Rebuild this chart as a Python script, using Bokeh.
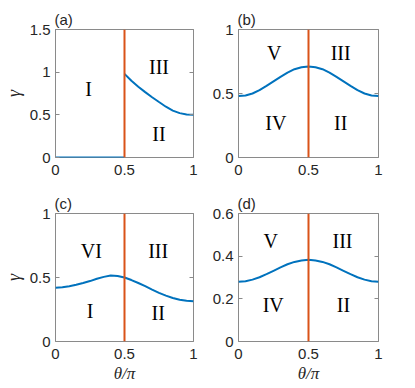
from bokeh.plotting import figure
from bokeh.models import Range1d, FixedTicker, LinearAxis, Span, ColumnDataSource
from bokeh.layouts import column, row
from bokeh.core.properties import value
from bokeh.embed import file_html
from bokeh.resources import INLINE

# ---------------- data ----------------
theta = [0.0, 0.05, 0.1, 0.15, 0.2, 0.25, 0.3, 0.35, 0.4, 0.45, 0.5,
         0.55, 0.6, 0.65, 0.7, 0.75, 0.8, 0.85, 0.9, 0.95, 1.0]

# panel (a): flat zero branch and decaying branch
a_theta_low = [0.0, 0.5]
a_gamma_low = [0.0, 0.0]
a_theta_high = [0.5, 0.55, 0.6, 0.65, 0.7, 0.75, 0.8, 0.85, 0.9, 0.95, 1.0]
a_gamma_high = [0.98, 0.90, 0.83, 0.766, 0.706, 0.65, 0.595, 0.55, 0.52, 0.505, 0.50]

b_gamma = [0.48, 0.485, 0.50, 0.527, 0.56, 0.595, 0.63, 0.663, 0.69, 0.705, 0.71,
           0.705, 0.69, 0.663, 0.63, 0.595, 0.56, 0.527, 0.50, 0.485, 0.48]
c_gamma = [0.42, 0.423, 0.432, 0.443, 0.457, 0.472, 0.49, 0.505, 0.515, 0.512, 0.50,
           0.48, 0.457, 0.432, 0.405, 0.38, 0.358, 0.34, 0.326, 0.318, 0.315]
d_gamma = [0.28, 0.2825, 0.29, 0.301, 0.3155, 0.3315, 0.3475, 0.362, 0.373, 0.380, 0.383,
           0.380, 0.373, 0.362, 0.3475, 0.3315, 0.3155, 0.301, 0.29, 0.2825, 0.28]

boundary_theta = 0.5

x_ticks = [0, 0.5, 1]
x_tick_labels = ["0", "0.5", "1"]
a_y_ticks = [0, 0.5, 1, 1.5]
a_y_labels = ["0", "0.5", "1", "1.5"]
bc_y_ticks = [0, 0.5, 1]
bc_y_labels = ["0", "0.5", "1"]
d_y_ticks = [0, 0.2, 0.4, 0.6]
d_y_labels = ["0", "0.2", "0.4", "0.6"]

# region labels
a_reg_x = [0.24, 0.75, 0.75]
a_reg_y = [0.80, 1.06, 0.28]
a_reg_t = ["I", "III", "II"]
b_reg_x = [0.255, 0.73, 0.267, 0.73]
b_reg_y = [0.82, 0.82, 0.27, 0.27]
b_reg_t = ["V", "III", "IV", "II"]
c_reg_x = [0.26, 0.744, 0.25, 0.744]
c_reg_y = [0.71, 0.71, 0.24, 0.22]
c_reg_t = ["VI", "III", "I", "II"]
d_reg_x = [0.23, 0.743, 0.248, 0.75]
d_reg_y = [0.47, 0.47, 0.17, 0.17]
d_reg_t = ["V", "III", "IV", "II"]

BLUE = "#0072BD"
ORANGE = "#D95319"
BOX = "#8a8a8a"
TXT = "#262626"
SANS = "Liberation Sans"
SERIF = "Liberation Serif"


def make_panel(tag, ymax, yticks, ylabels, borders, ylab=None, xlab=None):
    bl, br, bt, bb = borders
    p = figure(frame_width=138 if bl > 40 else 140, frame_height=128,
               output_backend="svg",
               toolbar_location=None, x_range=Range1d(0, 1),
               y_range=Range1d(0, ymax),
               min_border_left=bl, min_border_right=br,
               min_border_top=bt, min_border_bottom=bb)
    p.xgrid.visible = False
    p.ygrid.visible = False
    p.outline_line_color = BOX
    p.outline_line_width = 1
    p.background_fill_color = "white"
    p.border_fill_color = "white"

    p.title.text = tag
    p.title.align = "left"
    p.title.offset = -1
    p.title.standoff = 3
    p.title.text_font = SANS
    p.title.text_font_size = "15px"
    p.title.text_font_style = "normal"
    p.title.text_color = TXT

    for ax, ticks, labels, sto in ((p.xaxis[0], x_ticks, x_tick_labels, 7),
                                   (p.yaxis[0], yticks, ylabels, 5)):
        ax.ticker = FixedTicker(ticks=ticks)
        ax.major_label_overrides = {t: l for t, l in zip(ticks, labels)}
        ax.minor_tick_line_color = None
        ax.major_tick_in = 4
        ax.major_tick_out = 0
        ax.major_tick_line_color = BOX
        ax.axis_line_color = None
        ax.major_label_text_font = SANS
        ax.major_label_text_font_size = "15px"
        ax.major_label_text_color = TXT
        ax.major_label_standoff = sto
    if ylab:
        p.yaxis[0].axis_label = ylab
        p.yaxis[0].axis_label_text_font = SERIF
        p.yaxis[0].axis_label_text_font_style = "italic"
        p.yaxis[0].axis_label_text_font_size = "18px"
        p.yaxis[0].axis_label_text_color = TXT
        p.yaxis[0].axis_label_standoff = 3
    if xlab:
        p.xaxis[0].axis_label = xlab
        p.xaxis[0].axis_label_text_font = SERIF
        p.xaxis[0].axis_label_text_font_style = "italic"
        p.xaxis[0].axis_label_text_font_size = "17px"
        p.xaxis[0].axis_label_text_color = TXT
        p.xaxis[0].axis_label_standoff = 2

    for loc, ticks in (("above", x_ticks), ("right", yticks)):
        ax = LinearAxis(ticker=FixedTicker(ticks=ticks),
                        major_label_overrides={t: "" for t in ticks},
                        major_label_text_font_size="1px",
                        major_label_standoff=0,
                        major_tick_in=4, major_tick_out=0,
                        major_tick_line_color=BOX,
                        minor_tick_line_color=None,
                        axis_line_color=None)
        p.add_layout(ax, loc)
    return p


def add_regions(p, xs, ys, ts):
    src = ColumnDataSource(dict(x=xs, y=ys, t=ts))
    p.text(x="x", y="y", text="t", source=src,
           text_font=value(SERIF), text_font_size="20px",
           text_align="center", text_baseline="middle", text_color="black")


def add_boundary(p):
    p.add_layout(Span(location=boundary_theta, dimension="height",
                      line_color=ORANGE, line_width=2))


pa = make_panel("(a)", 1.5, a_y_ticks, a_y_labels, (54, 16, 29, 34), ylab="γ")
add_regions(pa, a_reg_x, a_reg_y, a_reg_t)
pa.line(a_theta_low, a_gamma_low, line_color=BLUE, line_width=2)
pa.line(a_theta_high, a_gamma_high, line_color=BLUE, line_width=2)
add_boundary(pa)

pb = make_panel("(b)", 1.0, bc_y_ticks, bc_y_labels, (28, 16, 29, 34))
add_regions(pb, b_reg_x, b_reg_y, b_reg_t)
pb.line(theta, b_gamma, line_color=BLUE, line_width=2)
add_boundary(pb)

pc = make_panel("(c)", 1.0, bc_y_ticks, bc_y_labels, (54, 16, 22, 30),
                ylab="γ", xlab="θ/π")
add_regions(pc, c_reg_x, c_reg_y, c_reg_t)
pc.line(theta, c_gamma, line_color=BLUE, line_width=2)
add_boundary(pc)

pd = make_panel("(d)", 0.6, d_y_ticks, d_y_labels, (28, 16, 22, 30),
                xlab="θ/π")
add_regions(pd, d_reg_x, d_reg_y, d_reg_t)
pd.line(theta, d_gamma, line_color=BLUE, line_width=2)
add_boundary(pd)

layout = column(row(pa, pb), row(pc, pd))
open("out.html", "w").write(file_html(layout, INLINE))
